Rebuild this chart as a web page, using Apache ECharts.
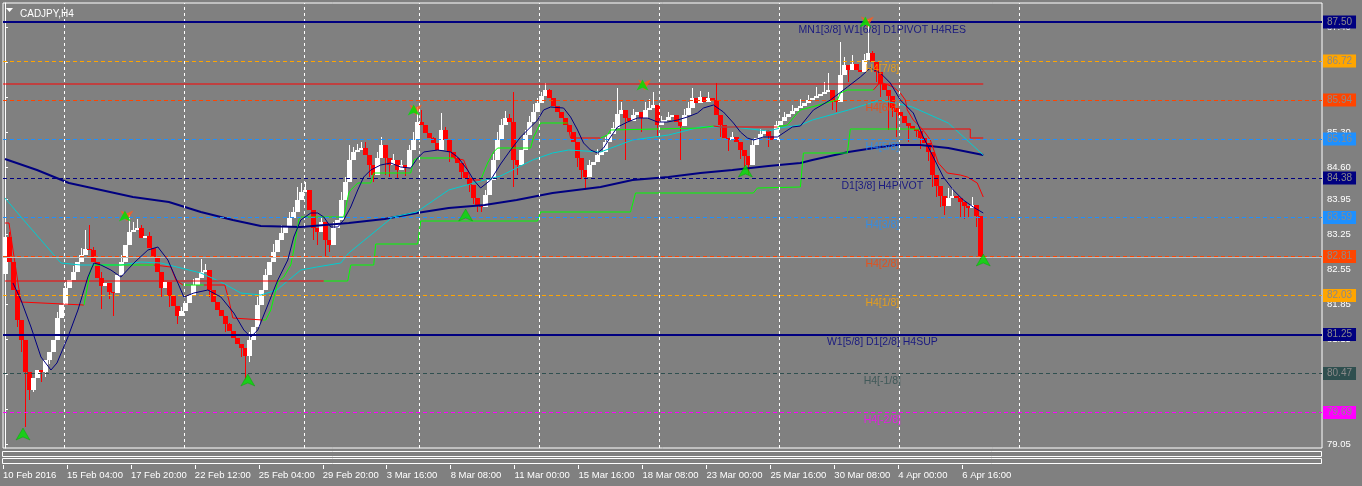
<!DOCTYPE html>
<html><head><meta charset="utf-8">
<script src="https://cdn.jsdelivr.net/npm/echarts@6/dist/echarts.min.js"></script>
<style>html,body{margin:0;padding:0;background:#808080;overflow:hidden}#c{width:1362px;height:486px}</style>
</head><body><div id="c"></div>
<script>
// ---------------- DATA ----------------
const symbolTitle = 'CADJPY,H4';
const slotCount = 330;                       // bar slots on the time axis (245 bars + empty future)
const xTickBars = [0,16,32,48,64,80,96,112,128,144,160,176,192,208,224,240];
const xTickLabels = ['10 Feb 2016','15 Feb 04:00','17 Feb 20:00','22 Feb 12:00','25 Feb 04:00','29 Feb 20:00','3 Mar 16:00','8 Mar 08:00','11 Mar 00:00','15 Mar 16:00','18 Mar 08:00','23 Mar 00:00','25 Mar 16:00','30 Mar 08:00','4 Apr 00:00','6 Apr 16:00'];
const yTickValues = [87.40,86.70,86.00,85.30,84.60,83.95,83.25,82.55,81.85,81.15,80.45,79.75,79.05];
const weekStarts = [14.75,44.75,74.75,103.75,133.75,163.75,193.75,223.75,253.75];

const open = [
82.46,83.20,82.70,82.14,81.54,81.14,80.50,80.14,80.38,80.54,
80.50,80.74,80.90,81.14,81.58,81.84,82.18,82.34,82.50,82.70,
82.84,82.96,82.94,82.70,82.38,82.22,82.28,82.10,82.08,82.44,
82.70,83.04,83.30,83.34,83.38,83.18,83.22,82.98,82.78,82.50,
82.18,82.30,82.02,81.82,81.62,81.72,81.88,82.04,82.24,82.38,
82.50,82.54,82.14,81.90,81.74,81.62,81.46,81.32,81.18,81.06,
80.98,80.82,81.14,81.40,81.84,82.14,82.44,82.70,82.90,83.14,
83.28,83.42,83.58,83.70,83.94,84.10,84.14,83.74,83.38,83.30,
83.50,83.14,83.04,83.38,83.54,83.94,84.30,84.74,84.90,84.94,
84.98,84.84,84.64,84.44,84.78,85.04,84.78,84.64,84.74,84.54,
84.64,84.58,84.94,85.14,85.50,85.44,85.28,85.18,85.08,84.94,
85.34,85.14,84.90,84.78,84.68,84.50,84.38,84.24,83.98,83.84,
83.80,84.04,84.34,84.74,85.14,85.44,85.58,85.50,84.74,84.64,
84.94,85.24,85.50,85.70,85.88,86.02,86.14,85.98,85.82,85.70,
85.58,85.44,85.30,85.10,84.78,84.54,84.40,84.64,84.70,84.84,
84.90,85.10,85.26,85.38,85.66,85.74,85.58,85.52,85.64,85.70,
85.58,85.74,85.78,85.84,85.44,85.50,85.54,85.60,85.64,85.50,
85.42,85.64,85.78,85.98,85.88,86.00,85.90,85.98,85.94,85.64,
85.44,85.18,85.14,85.20,85.10,84.94,84.82,84.64,85.04,85.18,
85.26,85.34,85.22,85.14,85.44,85.52,85.60,85.66,85.72,85.78,
85.82,85.88,85.94,85.98,86.02,86.06,86.10,86.14,85.94,85.90,
86.44,86.64,86.54,86.66,86.54,86.50,86.74,86.88,86.70,86.50,
86.26,86.14,86.02,85.78,85.70,85.62,85.48,85.42,85.36,85.32,
85.18,85.08,84.90,84.44,84.22,84.02,83.82,83.98,84.02,83.98,
83.90,83.82,83.78,83.84,83.62];
const close = [
83.20,82.70,82.14,81.54,81.14,80.50,80.14,80.38,80.54,80.50,
80.74,80.90,81.14,81.58,81.84,82.18,82.34,82.50,82.70,82.84,
82.96,82.94,82.70,82.38,82.22,82.28,82.10,82.08,82.44,82.70,
83.04,83.30,83.34,83.38,83.18,83.22,82.98,82.78,82.50,82.18,
82.30,82.02,81.82,81.62,81.72,81.88,82.04,82.24,82.38,82.50,
82.54,82.14,81.90,81.74,81.62,81.46,81.32,81.18,81.06,80.98,
80.82,81.14,81.40,81.84,82.14,82.44,82.70,82.90,83.14,83.28,
83.42,83.58,83.70,83.94,84.10,84.14,83.74,83.38,83.30,83.50,
83.14,83.04,83.38,83.54,83.94,84.30,84.74,84.90,84.94,84.98,
84.84,84.64,84.44,84.78,85.04,84.78,84.64,84.74,84.54,84.64,
84.58,84.94,85.14,85.50,85.44,85.28,85.18,85.08,84.94,85.34,
85.14,84.90,84.78,84.68,84.50,84.38,84.24,83.98,83.84,83.80,
84.04,84.34,84.74,85.14,85.44,85.58,85.50,84.74,84.64,84.94,
85.24,85.50,85.70,85.88,86.02,86.14,85.98,85.82,85.70,85.58,
85.44,85.30,85.10,84.78,84.54,84.40,84.64,84.70,84.84,84.90,
85.10,85.26,85.38,85.66,85.74,85.58,85.52,85.64,85.70,85.58,
85.74,85.78,85.84,85.44,85.50,85.54,85.60,85.64,85.50,85.42,
85.64,85.78,85.98,85.88,86.00,85.90,85.98,85.94,85.64,85.44,
85.18,85.14,85.20,85.10,84.94,84.82,84.64,85.04,85.18,85.26,
85.34,85.22,85.14,85.44,85.52,85.60,85.66,85.72,85.78,85.82,
85.88,85.94,85.98,86.02,86.06,86.10,86.14,85.94,85.90,86.44,
86.64,86.54,86.66,86.54,86.50,86.74,86.88,86.70,86.50,86.26,
86.14,86.02,85.78,85.70,85.62,85.48,85.42,85.36,85.32,85.18,
85.08,84.90,84.44,84.22,84.02,83.82,83.98,84.02,83.98,83.90,
83.82,83.78,83.84,83.62,82.80];
// bar index -> wick extreme (bars not listed have no visible wick beyond the body)
const wickHigh = {0:83.34,1:83.30,13:81.70,15:82.30,17:82.62,19:82.98,20:83.34,21:83.44,22:83.00,24:82.50,29:82.84,31:83.64,32:83.50,33:83.56,34:83.44,36:83.30,39:82.40,44:81.80,47:82.36,49:82.76,50:82.66,53:81.90,56:81.48,61:81.30,63:82.00,65:82.56,67:83.06,69:83.44,71:83.70,72:83.80,73:84.20,74:84.28,75:84.30,76:84.10,79:83.60,82:83.50,84:84.10,85:84.40,86:85.04,87:85.00,88:85.06,89:85.10,90:85.10,93:84.90,94:85.20,97:84.86,99:84.74,101:85.04,102:85.30,103:85.80,104:85.74,107:85.20,109:85.68,110:85.40,113:84.80,120:84.14,122:84.86,123:85.30,124:85.56,125:85.72,126:85.66,127:86.10,130:85.34,131:85.62,132:85.86,133:85.98,134:86.10,135:86.28,136:86.16,138:85.82,146:84.74,148:84.96,150:85.20,152:85.50,153:86.18,154:85.90,157:85.76,160:85.90,161:85.96,162:86.10,164:85.62,166:85.70,170:85.76,171:85.90,172:86.18,174:86.12,176:86.10,178:86.28,182:85.30,187:85.14,189:85.36,193:85.52,195:85.70,197:85.84,199:85.96,201:86.04,203:86.20,205:86.30,206:86.48,209:87.10,210:86.80,212:86.84,215:86.86,216:87.54,217:86.92,220:86.22,236:84.18,237:84.18,242:84.00};
const wickLow = {3:81.40,4:80.90,5:79.40,6:79.94,7:80.10,9:80.30,10:80.40,11:80.66,24:81.76,26:81.96,27:81.62,39:82.00,41:81.80,43:81.46,51:82.00,55:81.30,59:80.80,60:80.34,61:80.70,77:83.14,78:83.04,80:82.80,81:82.90,91:84.40,92:84.30,95:84.44,96:84.40,98:84.36,100:84.42,111:84.70,114:84.36,116:84.10,117:83.86,118:83.70,119:83.70,127:84.20,128:84.44,143:84.60,144:84.36,145:84.14,155:84.74,159:85.30,163:85.20,169:84.74,179:85.20,181:84.92,184:84.76,185:84.60,186:84.44,191:85.00,207:85.74,208:85.70,211:86.30,218:86.30,219:86.00,221:85.34,222:85.60,223:85.20,226:85.10,228:85.20,229:84.96,231:84.72,232:84.20,233:84.00,234:83.80,235:83.64,239:83.60,240:83.56,241:83.60,243:83.40,244:82.76};

// indicator lines: [bar position, price]
const slowMA = [[0,84.76],[8,84.54],[16,84.28],[24,84.14],[32,84.00],[41,83.90],[49,83.70],[57,83.54],[64,83.42],[74,83.40],[86,83.48],[95,83.56],[103,83.68],[111,83.78],[120,83.84],[128,83.94],[137,84.08],[149,84.20],[157,84.34],[166,84.40],[174,84.48],[182,84.54],[191,84.62],[199,84.68],[202,84.74],[211,84.90],[219,85.00],[223,85.04],[229,85.04],[236,84.98],[244.75,84.84]];
const midMA = [[0,83.98],[4,83.60],[9,83.14],[14,82.68],[19,82.64],[24,82.64],[29,82.64],[34,82.70],[39,82.68],[44,82.58],[49,82.48],[54,82.30],[59,82.08],[64,82.04],[68,82.14],[74,82.54],[78,82.60],[84,82.68],[86,82.88],[97,83.60],[103,83.70],[111,84.14],[120,84.34],[124,84.42],[132,84.74],[137,84.88],[141,84.94],[149,84.90],[157,85.14],[166,85.24],[174,85.40],[182,85.40],[191,85.32],[194,85.38],[199,85.44],[202,85.54],[211,85.74],[219,85.94],[227,85.80],[236,85.48],[244.75,84.84]];
const fastMA = [[2,82.28],[4,81.94],[6.5,81.40],[9,80.80],[11.5,80.54],[13,80.68],[15.75,81.20],[18.25,81.74],[20.75,82.40],[22.25,82.68],[24,82.64],[26.5,82.54],[29,82.40],[32.25,82.68],[35.75,82.94],[38.25,83.00],[40.75,82.74],[43.25,82.28],[44.75,82.00],[47.25,82.08],[50.75,82.14],[54,82.00],[57.25,81.68],[59.75,81.34],[61.5,81.20],[63.25,81.34],[68.25,82.34],[70.75,82.74],[72.25,83.20],[74,83.54],[76.5,83.68],[78.25,83.68],[79.75,83.60],[81.5,83.40],[83.25,83.40],[84.75,83.54],[86.5,83.80],[88.25,84.14],[89.75,84.40],[91.5,84.54],[94,84.64],[96.5,84.68],[99,84.60],[101.5,84.58],[103.25,84.78],[104.75,84.90],[108.25,84.94],[111.5,84.90],[113.25,84.80],[115.75,84.54],[117.25,84.34],[119,84.18],[121.5,84.34],[124,84.66],[126.5,84.94],[129,85.20],[131.5,85.40],[133.25,85.54],[134.75,85.74],[136.5,85.80],[139.75,85.78],[141.5,85.60],[143.25,85.34],[144.75,85.08],[146.5,84.94],[148.25,84.88],[149.75,84.98],[151.5,85.20],[153.25,85.40],[155.75,85.50],[158.25,85.58],[160.75,85.58],[163.25,85.50],[165.75,85.50],[168.25,85.54],[170.75,85.60],[173.25,85.68],[174.75,85.78],[177.25,85.84],[179.75,85.70],[182.25,85.48],[184,85.30],[185.75,85.18],[187.25,85.14],[189.75,85.20],[193.25,85.20],[197,85.40],[199,85.42],[202.25,85.74],[206.5,85.94],[210.75,86.20],[214,86.40],[216.5,86.58],[219,86.48],[221.5,86.28],[224,85.94],[227.25,85.68],[229.75,85.20],[232.25,84.80],[234.75,84.40],[237.25,84.14],[239.75,83.94],[242.25,83.80],[244.75,83.68]];

// trailing stops: segments above price (red) and below price (green)
const fastStopRed = [
 [[0,83.48],[1,83.48],[2,82.94],[3.25,82.28],[4,81.90],[19.75,81.84]],
 [[37.25,82.64],[41.5,82.60],[42.75,82.34],[44.5,82.24]],
 [[49.75,82.24],[55,82.24],[56,81.94],[57,81.58],[64.5,81.54]],
 [[112.25,84.78],[114.75,84.74],[115.75,84.54],[116.5,84.34],[119,84.34]],
 [[140.75,85.48],[141.5,85.18],[149,85.18]],
 [[177.25,85.42],[179,85.40],[193.25,85.40]],
 [[217.25,86.14],[219,86.30],[222.25,86.20],[224,86.08],[225.25,85.94],[225.75,85.74],[227.25,85.54],[229,85.40],[230.25,85.28],[231.5,85.14],[233.5,84.68],[235.75,84.48],[239,84.44],[240.75,84.40],[243.25,84.28],[244.75,84.00]]];
const fastStopGreen = [
 [[19.75,81.84],[21.5,82.58],[22.25,82.64],[37.25,82.64]],
 [[44.5,82.24],[49.75,82.24]],
 [[64.5,81.54],[65.25,81.54],[66.5,81.74],[68.25,82.30],[69.75,82.40],[71.5,82.64],[72.25,82.94],[73.5,83.54],[74,83.60],[84.75,83.60],[86,84.08],[86.5,84.14],[88.25,84.28],[91.5,84.28],[92.25,84.48],[101.5,84.48],[102.25,84.74],[103.25,84.78],[112.25,84.78]],
 [[119,84.34],[120.75,84.68],[122.25,84.90],[123.25,84.98],[131.5,84.98],[132.25,85.20],[134,85.48],[140.75,85.48]],
 [[149,85.18],[150.75,85.24],[151.5,85.34],[174,85.38],[177.25,85.42]],
 [[193.25,85.40],[195.75,85.44],[198.25,85.68],[199,85.74],[208.25,85.94],[209,86.08],[210.75,86.14],[217.25,86.14]]];
const slowStopRed = [
 [[0,82.32],[79.75,82.32]],
 [[229,85.36],[241.5,85.36],[241.5,85.18],[244.75,85.18]]];
const slowStopGreen = [
 [[79.75,82.32],[85.75,82.32],[86.5,82.64],[92.25,82.64],[92.75,83.06],[103.25,83.06],[104,83.52],[133.25,83.52],[134,83.70],[156.5,83.70],[157.75,84.08],[187.25,84.08],[188.25,84.18],[199,84.20],[199.75,84.88],[210.75,84.88],[211.5,85.36],[229,85.36]]];

const upArrows = [[4.5,79.26],[60.75,80.34],[115.25,83.64],[185.25,84.52],[244.75,82.74]];
const stars = [[30.5,83.62],[102.75,85.74],[160,86.24],[215.75,87.50]];

const levelValues = [87.50,86.72,85.94,85.16,84.38,83.59,82.81,82.03,81.25,80.47,79.69];
const levelNames = ['MN1[3/8] W1[6/8] D1PIVOT H4RES','H4[7/8]','H4[6/8]','H4[5/8]','D1[3/8] H4PIVOT','H4[3/8]','H4[2/8]','H4[1/8]','W1[5/8] D1[2/8] H4SUP','H4[-1/8]','H4[-2/8]'];
const resistanceLevel = 86.26;
const resistanceSpan = [-0.5, 244.75];
const bidPrice = 82.80;

// ---------------- STYLE ----------------
const FONT = "'Liberation Sans', Arial, sans-serif";
const levelColors = ['#000080','#FFA500','#FF4500','#1E90FF','#000080','#1E90FF','#FF4500','#FFA500','#000080','#2F4F4F','#FF00FF'];
const levelSolid = [true,false,false,false,false,false,false,false,true,false,false];
const levelTextBar = 219.5;
const UP_ARROW = 'path://M5,0L10,10L5,7.5L0,10Z';
const DOWN_ARROW = 'path://M0,0L5,2.5L10,0L5,10Z';
const BULL = '#ffffff', BEAR = '#ff0000';
const BODY_W = 5;

const candleRows = close.map((c, i) => {
  const o = open[i];
  const hi = Math.max(o, c, wickHigh[i] !== undefined ? wickHigh[i] : -Infinity);
  const lo = Math.min(o, c, wickLow[i] !== undefined ? wickLow[i] : Infinity);
  return [i, o, c, lo, hi];
});
const xTickPos = xTickBars.map(b => b - 0.5);

function renderCandle(params, api) {
  const i = api.value(0), o = api.value(1), c = api.value(2), lo = api.value(3), hi = api.value(4);
  const xc = Math.round(api.coord([i, o])[0]);
  const yO = api.coord([i, o])[1], yC = api.coord([i, c])[1];
  const yL = Math.round(api.coord([i, lo])[1]), yH = Math.round(api.coord([i, hi])[1]);
  const top = Math.round(Math.min(yO, yC)), bot = Math.round(Math.max(yO, yC));
  const col = c >= o ? BULL : BEAR;
  const half = Math.floor(BODY_W / 2);
  return {type:'group', children:[
    {type:'rect', shape:{x:xc, y:yH, width:1, height:Math.max(1, yL - yH)}, style:{fill:col}},
    {type:'rect', shape:{x:xc - half, y:top, width:BODY_W, height:Math.max(1, bot - top)}, style:{fill:col}}
  ]};
}

function lineS(data, color, width, z) {
  return {type:'line', xAxisIndex:1, yAxisIndex:0, data, symbol:'none', showSymbol:false,
    lineStyle:{color, width}, z, silent:true, clip:true};
}

const series = [];
// weekly grid
series.push({type:'line', xAxisIndex:1, data:[[0,82]], symbol:'none', showSymbol:false, z:1, silent:true,
  lineStyle:{opacity:0},
  markLine:{silent:true, symbol:['none','none'], label:{show:false},
    lineStyle:{color:'#ffffff', type:[3,3], width:1},
    data: weekStarts.map(v => ({xAxis:v}))}});
// candles
series.push({type:'custom', xAxisIndex:1, yAxisIndex:0, data:candleRows, renderItem:renderCandle, z:2, silent:true,
  encode:{x:0, y:[1,2,3,4]}, clip:true});
// resistance line
series.push(lineS([[resistanceSpan[0],resistanceLevel],[resistanceSpan[1],resistanceLevel]], '#ff0000', 1, 3));
// indicators
series.push(lineS(slowMA, '#000080', 2, 4));
series.push(lineS(midMA, '#00CED1', 1, 4));
slowStopRed.forEach(s => series.push(lineS(s, '#ff0000', 1, 4)));
slowStopGreen.forEach(s => series.push(lineS(s, '#00ff00', 1, 4)));
fastStopRed.forEach(s => series.push(lineS(s, '#ff0000', 1, 4)));
fastStopGreen.forEach(s => series.push(lineS(s, '#00ff00', 1, 4)));
series.push(lineS(fastMA, '#000080', 1, 5));
// murrey levels with price boxes
series.push({type:'line', xAxisIndex:1, data:[[0,82]], symbol:'none', showSymbol:false, z:6, silent:true,
  lineStyle:{opacity:0},
  markLine:{silent:true, symbol:['none','none'],
    data: levelValues.map((v, i) => ({yAxis:v,
      lineStyle:{color:levelColors[i], width: levelSolid[i] ? 2 : 1, type: levelSolid[i] ? 'solid' : [4,3]},
      label:{show:true, position:'end', distance:1, formatter: v.toFixed(2), backgroundColor:levelColors[i],
        color:'#8a8a8a', fontSize:10, fontFamily:FONT, padding:[1,4,1,4], lineHeight:11}}))
    .concat([{yAxis:bidPrice, lineStyle:{color:'#c0c0c0', width:1, type:'solid'}, label:{show:false}}])}});
// level names
series.push({type:'scatter', xAxisIndex:1, yAxisIndex:0, z:7, silent:true, symbolSize:2,
  itemStyle:{color:'rgba(0,0,0,0)'},
  label:{show:true},
  data: levelValues.map((v, i) => ({value:[levelTextBar, v],
    label:{show:true, position:'inside', offset:[0,8], formatter: levelNames[i], color: levelColors[i],
      fontSize:10.5, fontFamily:FONT}}))});
// arrows
series.push({type:'scatter', xAxisIndex:1, yAxisIndex:0, z:8, silent:true, symbol:UP_ARROW, symbolSize:[14,12],
  itemStyle:{color:'#00e000', borderColor:'#00a000', borderWidth:0.5}, data: upArrows});
series.push({type:'scatter', xAxisIndex:1, yAxisIndex:0, z:8, silent:true, symbol:DOWN_ARROW, symbolSize:[13,11],
  itemStyle:{color:'#ff5a1e'}, data: stars});
series.push({type:'scatter', xAxisIndex:1, yAxisIndex:0, z:9, silent:true, symbol:UP_ARROW, symbolSize:[12,11],
  symbolOffset:[-2,0], itemStyle:{color:'#00e000', opacity:0.85}, data: stars});

const option = {
  backgroundColor:'#808080',
  animation:false,
  textStyle:{fontFamily:FONT},
  title:{text:symbolTitle, left:15, top:4, textStyle:{color:'#ffffff', fontSize:10, fontWeight:'normal', fontFamily:FONT}},
  grid:{left:2, top:3, width:1320, height:445, show:true, borderColor:'#ffffff', borderWidth:1, backgroundColor:'transparent'},
  xAxis:[
    {type:'category', data:Array.from({length: slotCount}, (_, i) => i), boundaryGap:true, show:false},
    {type:'value', min:-0.5, max:slotCount - 0.5, position:'bottom', offset:17,
      axisLine:{show:false},
      axisTick:{show:true, customValues:xTickPos, length:4, lineStyle:{color:'#ffffff'}},
      axisLabel:{show:true, customValues:xTickPos, formatter:v => xTickLabels[Math.round((v + 0.5) / 16)] || '',
        color:'#ffffff', fontSize:9.5, align:'left', margin:5, fontFamily:FONT},
      splitLine:{show:false}}
  ],
  yAxis:[{type:'value', min:78.98, max:87.88, position:'right',
    axisLine:{show:true, lineStyle:{color:'#ffffff'}},
    axisTick:{show:true, customValues:yTickValues, length:3, lineStyle:{color:'#ffffff'}},
    axisLabel:{show:true, customValues:yTickValues, formatter:v => v.toFixed(2), color:'#ffffff', fontSize:9.5, margin:5, fontFamily:FONT},
    splitLine:{show:false}}],
  graphic:[
    {type:'polygon', shape:{points:[[6,8],[13,8],[9.5,12]]}, style:{fill:'#ffffff'}},
    {type:'rect', shape:{x:2.5, y:451.5, width:1319, height:5}, style:{fill:'none', stroke:'#ffffff', lineWidth:1}},
    {type:'rect', shape:{x:2.5, y:458.5, width:1319, height:5}, style:{fill:'none', stroke:'#ffffff', lineWidth:1}}
  ],
  series
};
const chart = echarts.init(document.getElementById('c'), null, {renderer:'canvas', width:1362, height:486});
chart.setOption(option);
</script>
</body></html>
